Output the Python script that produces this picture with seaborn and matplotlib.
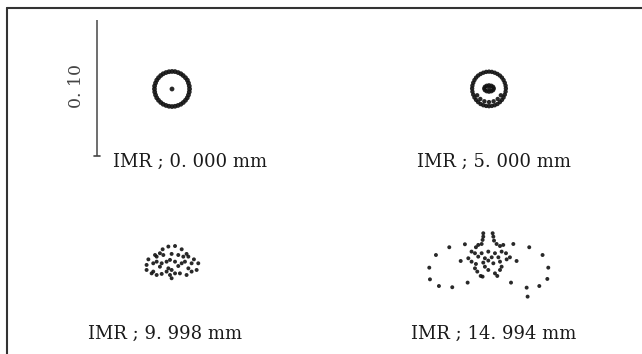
import numpy as np
import pandas as pd
import matplotlib
matplotlib.use("Agg")
import matplotlib.pyplot as plt
import seaborn as sns
from matplotlib.lines import Line2D

# Spot diagram offsets (micrometres, relative to the chief ray)
# IMR 0.000 mm : thick ring + central point
spot0_x = [12.9, 12.7, 12.1, 11.3, 9.9, 8.2, 6.5, 4.5, 2.2,
           0.0, -2.2, -4.4, -6.5, -8.3, -9.9, -11.2, -12.1, -12.8,
           -12.9, -12.7, -12.1, -11.2, -9.9, -8.3, -6.5, -4.4, -2.2,
           0.0, 2.2, 4.4, 6.5, 8.3, 9.9, 11.2, 12.1, 12.7, 0.0]
spot0_y = [0.0, 2.2, 4.4, 6.5, 8.3, 9.9, 11.2, 12.1, 12.8,
           12.9, 12.7, 12.1, 11.2, 9.9, 8.3, 6.5, 4.4, 2.2,
           0.0, -2.2, -4.4, -6.5, -8.3, -9.9, -11.2, -12.1, -12.7,
           -12.9, -12.7, -12.1, -11.2, -9.9, -8.3, -6.5, -4.4, -2.2, 0.0]

# IMR 5.000 mm : ring, denser at the bottom, small inner ellipse
spot5_x = [12.4, 12.2, 11.6, 10.7, 9.5, 8.0, 6.2, 4.2, 2.1,
           0.0, -2.1, -4.2, -6.2, -8.0, -9.5, -10.7, -11.6, -12.2,
           -12.4, -12.2, -11.6, -10.7, -9.5, -8.0, -6.2, -4.2, -2.1,
           0.0, 2.1, 4.2, 6.2, 8.0, 9.5, 10.7, 11.6, 12.2,
           -8.7, -6.4, -3.4, 0.0, 3.4, 6.4, 8.7,
           3.5, 3.0, 1.7, 0.0, -1.7, -3.0, -3.5, -3.0, -1.7, 0.0, 1.7, 3.0, 0.2]
spot5_y = [0.0, 2.1, 4.2, 6.2, 8.0, 9.5, 10.7, 11.6, 12.2,
           12.4, 12.2, 11.6, 10.7, 9.5, 8.0, 6.2, 4.2, 2.1,
           0.0, -2.3, -4.5, -6.6, -8.4, -10.0, -11.4, -12.3, -12.8,
           -13.0, -12.8, -12.3, -11.4, -10.0, -8.4, -6.6, -4.5, -2.3,
           -5.0, -7.7, -9.4, -10.0, -9.4, -7.7, -5.0,
           0.0, 1.2, 2.0, 2.3, 2.0, 1.2, 0.0, -1.2, -2.0, -2.3, -2.0, -1.2, 0.1]

# IMR 9.998 mm : dome of scattered rays
spot10_x = [-2.9, 2.0, -7.1, 6.9, -12.7, -9.1, -6.6, -0.5, 4.4, 10.5, 11.8, 15.9,
            -17.6, -14.0, -11.5, -4.2, -1.7, 2.0, 6.9, 9.3, 14.2, 19.1,
            -18.9, -18.9, -9.1, -2.9, -0.5, 4.4, 11.8, 17.9,
            -15.2, -11.5, -7.8, -4.2, -1.7, -0.5, 2.0, 5.6, 10.5, 14.2,
            -11.5, 8.1, -7.8, -14.0]
spot10_y = [12.3, 12.7, 10.3, 10.3, 6.1, 7.4, 6.1, 6.9, 6.1, 6.9, 4.9, 2.9,
            2.9, 0.0, 1.2, 1.2, 2.5, 1.2, 0.0, 1.2, 0.0, 0.0,
            -1.2, -4.9, -2.5, -3.7, -4.9, -2.0, -3.7, -4.9,
            -7.4, -8.6, -7.8, -6.1, -8.6, -11.0, -7.4, -7.4, -8.6, -6.1,
            4.9, 4.9, 0.0, -6.1]

# IMR 14.994 mm : outer ellipse of sparse rays + central butterfly
spot15_x = [-38.5, -28.7, -17.2, -43.4, -42.9, -36.3, -26.5, -15.2, 18.4, 30.1,
            39.9, 44.1, 43.4, 37.5, 28.2, 28.9, 16.7, 20.8, -20.3,
            -3.7, -3.7, -4.2, -4.9, -7.4, -9.1, 3.2, 3.7, 4.2, 6.1, 8.6, 11.0,
            -12.3, -9.8, -4.9, 0.0, 4.9, 9.8, 13.0, -7.4, -2.5, 2.5, 7.4,
            -14.7, -12.3, -9.1, -3.7, 0.0, 3.7, 8.6, 13.5, 15.9,
            -9.8, -8.1, -5.6, -4.2, 0.0, 4.9, 6.6, 8.6, 9.8, -2.5]
spot15_y = [6.1, 11.8, 14.0, -3.2, -11.8, -16.7, -17.6, -14.2, 14.2, 11.8,
            6.1, -3.2, -11.5, -16.7, -17.9, -24.5, -14.2, 1.7, 1.7,
            22.1, 19.6, 17.2, 14.2, 13.5, 11.8, 22.1, 19.6, 16.7, 14.2, 12.7, 13.5,
            8.6, 7.4, 7.4, 8.6, 7.4, 8.6, 7.4, 4.9, 3.7, 4.4, 4.4,
            3.7, 1.2, -0.5, 0.5, 2.0, 0.0, 1.2, 2.9, 4.4,
            -3.7, -6.1, -9.3, -9.8, -4.9, -7.4, -9.3, -4.9, -2.5, -2.5]

labels = ["IMR ; 0. 000 mm", "IMR ; 5. 000 mm", "IMR ; 9. 998 mm", "IMR ; 14. 994 mm"]
scale_um = 100
scale_label = "0. 10"

# layout (pixels of the 642x354 figure)
W, H = 642, 354
K = scale_um / 136.0          # micrometres per pixel
centers = [(172, 89), (489, 88.5), (172.3, 263.3), (488.3, 263.3)]
label_pos = [(190, 162), (494, 162), (165, 334), (494, 334)]
dot_size = [12, 10, 8, 8]


def to_um(px, py):
    return px * K, (H - py) * K


sns.set_theme(style="white")
plt.rcParams["font.family"] = ["DejaVu Serif", "Liberation Serif"]

fig = plt.figure(figsize=(W / 100, H / 100), dpi=100)
ax = fig.add_axes([0, 0, 1, 1])
ax.set_xlim(0, W * K)
ax.set_ylim(0, H * K)
ax.set_axis_off()

spots = [(spot0_x, spot0_y), (spot5_x, spot5_y), (spot10_x, spot10_y), (spot15_x, spot15_y)]
frames = []
for i, (xs, ys) in enumerate(spots):
    cx, cy = to_um(*centers[i])
    frames.append(pd.DataFrame({"x": np.array(xs) + cx, "y": np.array(ys) + cy,
                                "field": labels[i]}))
df = pd.concat(frames, ignore_index=True)

for i, lab in enumerate(labels):
    sub = df[df["field"] == lab]
    sns.scatterplot(data=sub, x="x", y="y", ax=ax, color="#111111", s=dot_size[i],
                    edgecolor="none", alpha=0.9, legend=False)
    lx, ly = to_um(*label_pos[i])
    ax.text(lx, ly, lab, ha="center", va="center", fontsize=13, color="#1a1a1a")

# scale bar (0.10 mm)
bx, by0 = to_um(97, 156)
ax.plot([bx, bx], [by0, by0 + scale_um], color="#555555", lw=1.2, solid_capstyle="butt")
ax.plot([bx - 2.2, bx + 2.2], [by0, by0], color="#444444", lw=1.2)
tx, ty = to_um(77, 86)
ax.text(tx, ty, scale_label, rotation=90, ha="center", va="center", fontsize=12.5, color="#444444")

# frame lines (top and left)
fig.add_artist(Line2D([6.5 / W, 1], [1 - 7.5 / H, 1 - 7.5 / H], transform=fig.transFigure,
                      color="#333333", lw=1.5))
fig.add_artist(Line2D([6.5 / W, 6.5 / W], [0, 1 - 7.5 / H], transform=fig.transFigure,
                      color="#333333", lw=1.5))

fig.savefig("out.png", dpi=100)
